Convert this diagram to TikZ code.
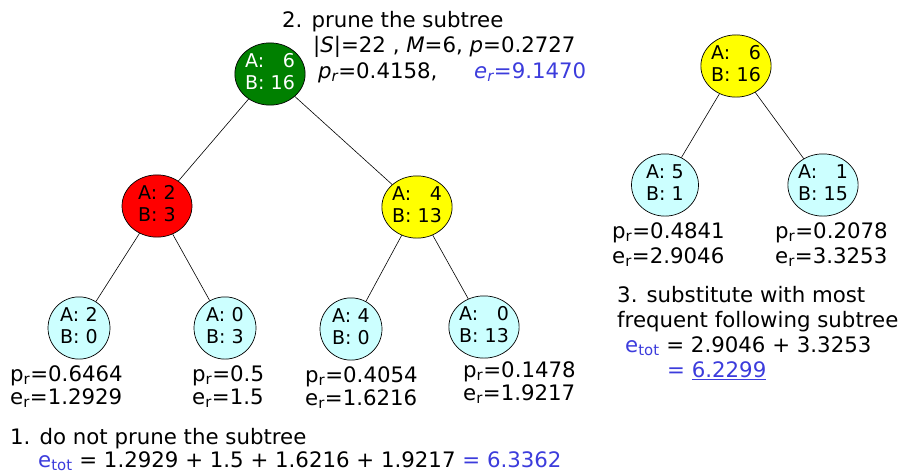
\documentclass[tikz,border=0pt]{standalone}
\usepackage{fontspec}
\setmainfont{DejaVu Sans}
\usetikzlibrary{shapes.geometric}
\definecolor{blu}{RGB}{60,60,220}
\definecolor{leafc}{RGB}{204,255,255}
\definecolor{dgreen}{RGB}{0,128,0}
\definecolor{redn}{RGB}{255,0,0}
\definecolor{yel}{RGB}{255,255,0}
\newcommand{\abtab}[2]{\begin{tabular}{@{}l@{\hspace{0.32em}}r@{}}A: & #1\\B: & #2\end{tabular}}
\begin{document}
\begin{tikzpicture}[x=1pt,y=-1pt,
  txt/.style={anchor=base west,inner sep=0pt,font=\fontsize{21.3}{25}\selectfont},
  tn/.style={ellipse,draw=black,line width=0.7pt,inner sep=0pt,font=\fontsize{19}{22}\selectfont},
  big/.style={tn,minimum width=70pt,minimum height=57pt},
  leaf/.style={tn,fill=leafc,minimum width=62pt,minimum height=56pt},
  rleaf/.style={tn,fill=leafc,minimum width=67pt,minimum height=55pt},
  edge/.style={draw=black,line width=0.6pt}]
\useasboundingbox (0,0) rectangle (900,474);
% left tree
\node[big,fill=dgreen,text=white] (g) at (270,74) {\abtab{6}{16}};
\node[big,fill=redn] (r) at (157,206) {\abtab{2}{3}};
\node[big,fill=yel] (y) at (417,207) {\abtab{4}{13}};
\node[leaf] (l1) at (79,328) {\abtab{2}{0}};
\node[leaf] (l2) at (225,328) {\abtab{0}{3}};
\node[leaf] (l3) at (351,329) {\abtab{4}{0}};
\node[leaf] (l4) at (484,327) {\abtab{0}{13}};
\draw[edge] (g) -- (r);
\draw[edge] (g) -- (y);
\draw[edge] (r) -- (l1);
\draw[edge] (r) -- (l2);
\draw[edge] (y) -- (l3);
\draw[edge] (y) -- (l4);
% right tree
\node[big,fill=yel,minimum width=68pt] (ry) at (736,66) {\abtab{6}{16}};
\node[rleaf] (rl1) at (665,185) {\abtab{5}{1}};
\node[rleaf] (rl2) at (823,185) {\abtab{1}{15}};
\draw[edge] (ry) -- (rl1);
\draw[edge] (ry) -- (rl2);
% top texts
\node[txt] (t1) at (282,27) {2. prune the subtree};
\node[txt] (t2) at (313,52) {|\textit{S}|=22 , \textit{M}=6, \textit{p}=0.2727};
\node[txt] (t3) at (318,78) {\textit{p\textsubscript{r}}=0.4158,};
\node[txt,text=blu] (t4) at (474,78) {\textit{e\textsubscript{r}}=9.1470};
% leaf labels
\node[txt] (p1) at (10,381) {p\textsubscript{r}=0.6464};
\node[txt] (e1) at (10,404) {e\textsubscript{r}=1.2929};
\node[txt] (p2) at (192,381) {p\textsubscript{r}=0.5};
\node[txt] (e2) at (192,404) {e\textsubscript{r}=1.5};
\node[txt] (p3) at (305,382) {p\textsubscript{r}=0.4054};
\node[txt] (e3) at (305,405) {e\textsubscript{r}=1.6216};
\node[txt] (p4) at (463,377) {p\textsubscript{r}=0.1478};
\node[txt] (e4) at (463,400) {e\textsubscript{r}=1.9217};
% bottom text
\node[txt] (b1) at (10,444) {1. do not prune the subtree};
\node[txt] (b2) at (38,467) {\textcolor{blu}{e\textsubscript{tot}} = 1.2929 + 1.5 + 1.6216 + 1.9217 \textcolor{blu}{= 6.3362}};
% right labels
\node[txt] (rp1) at (612,238) {p\textsubscript{r}=0.4841};
\node[txt] (re1) at (612,263) {e\textsubscript{r}=2.9046};
\node[txt] (rp2) at (775,238) {p\textsubscript{r}=0.2078};
\node[txt] (re2) at (775,263) {e\textsubscript{r}=3.3253};
\node[txt] (s1) at (617,302) {3. substitute with most};
\node[txt] (s2) at (617,327) {frequent following subtree};
\node[txt] (s3) at (625,352) {\textcolor{blu}{e\textsubscript{tot}} = 2.9046 + 3.3253};
\node[txt,text=blu] (s4) at (667,377) {= \underline{6.2299}};
\end{tikzpicture}
\end{document}
